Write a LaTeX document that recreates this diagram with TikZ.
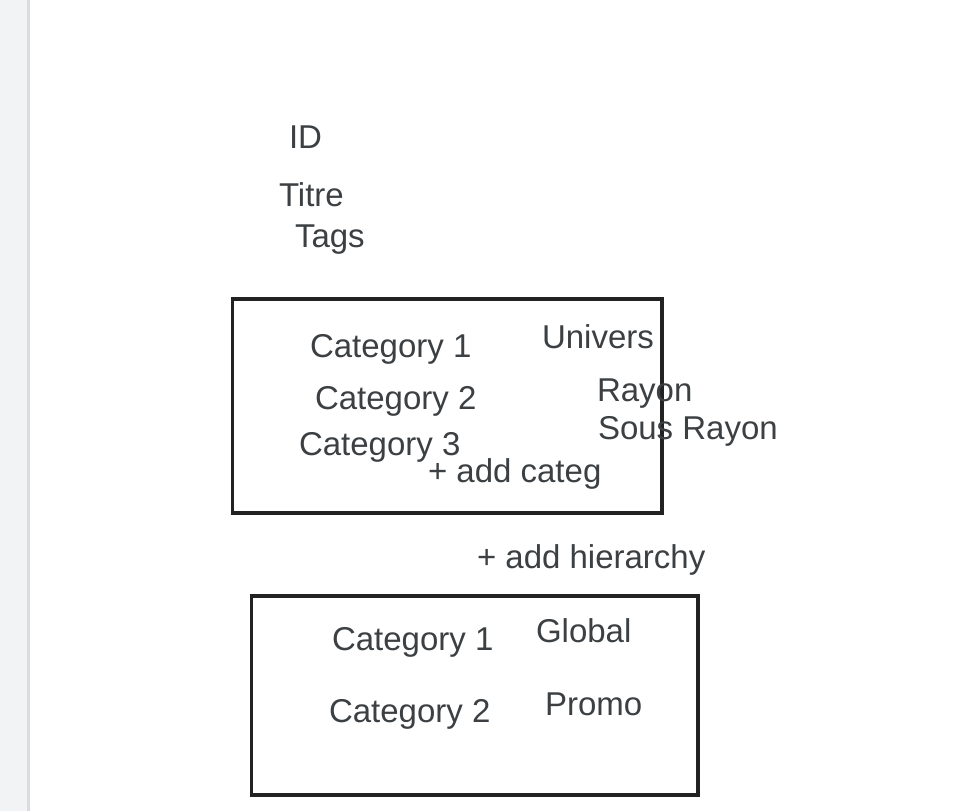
\documentclass[tikz,border=0pt]{standalone}
\usepackage{fontspec}
\setmainfont{Liberation Sans}
\definecolor{txt}{HTML}{3C4043}
\definecolor{boxc}{HTML}{222222}
\definecolor{strip}{HTML}{F1F3F4}
\definecolor{stripline}{HTML}{DADCE0}
\tikzset{
  lbl/.style={anchor=base west, inner sep=0pt, outer sep=0pt, text=txt, font=\fontsize{33}{33}\selectfont},
  frame/.style={draw=boxc, line width=3.6pt}
}
\begin{document}
\begin{tikzpicture}[x=1pt,y=-1pt]
\useasboundingbox (0,0) rectangle (956,811);
\fill[white] (0,0) rectangle (956,811);
\fill[strip] (0,0) rectangle (27,811);
\fill[stripline] (27,0) rectangle (29.5,811);
% boxes
\draw[frame] (232.5,299) rectangle (662,513);
\draw[frame] (251.5,596) rectangle (698,795);
% top fields
\node[lbl] (id) at (289,148) {ID};
\node[lbl] (titre) at (279,206) {Titre};
\node[lbl] (tags) at (295,247) {Tags};
% box 1
\node[lbl] (c1) at (310,357) {Category 1};
\node[lbl] (c2) at (315,409) {Category 2};
\node[lbl] (c3) at (299,455) {Category 3};
\node[lbl] (univ) at (542,348) {Univers};
\node[lbl] (rayon) at (597,401) {Rayon};
\node[lbl] (sous) at (598,439) {Sous Rayon};
\node[lbl] (addc) at (428,482) {+ add categ};
\node[lbl] (addh) at (477,568) {+ add hierarchy};
% box 2
\node[lbl] (d1) at (332,650) {Category 1};
\node[lbl] (d2) at (329,722) {Category 2};
\node[lbl] (glob) at (536,642) {Global};
\node[lbl] (promo) at (545,715) {Promo};
\end{tikzpicture}
\end{document}
